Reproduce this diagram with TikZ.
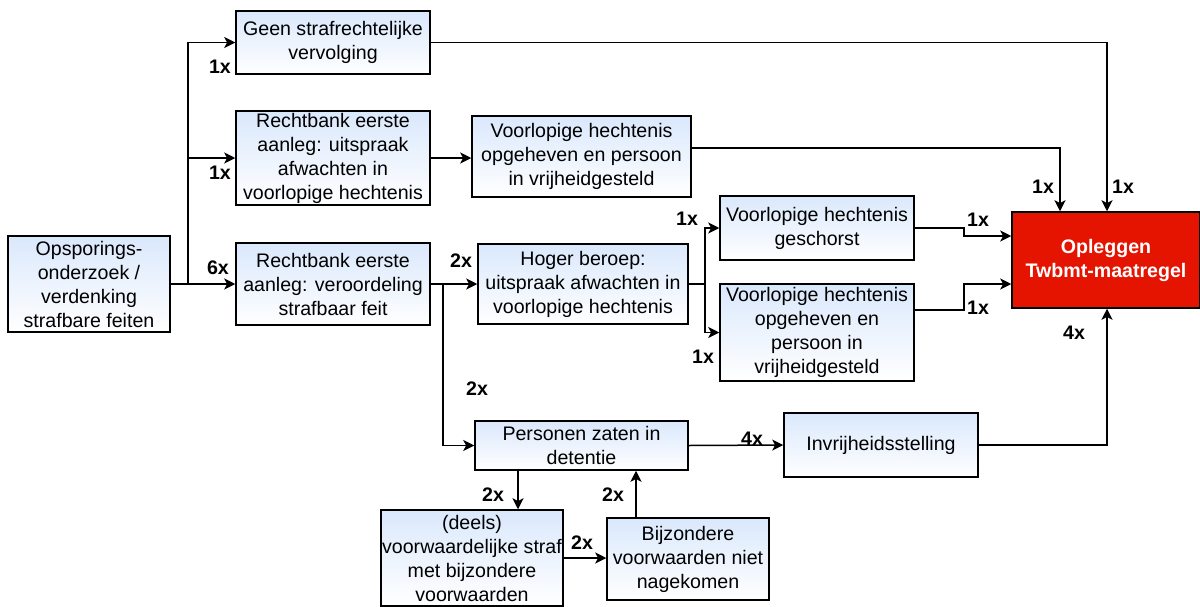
\documentclass[tikz,border=0pt]{standalone}
\usepackage{fontspec}
\setmainfont{Liberation Sans}
\usetikzlibrary{positioning,arrows.meta}
\definecolor{boxblue}{HTML}{DAE8FC}
\definecolor{boxred}{HTML}{E51400}

\begin{document}
\begin{tikzpicture}[x=0.5pt, y=-0.5pt, -{Stealth[length=5.5pt,width=5.5pt,inset=1.4pt]},
  line width=0.75pt,
  box/.style ={ rectangle, top color = boxblue, bottom color = white,
  draw = black, text = black, align=center, inner sep=1pt,
  font=\fontsize{9.8}{12}\selectfont},
  redbox/.style ={ rectangle, fill = boxred, draw = black, text = white,
  align=center, inner sep=1pt, font=\fontsize{9.8}{12}\selectfont\bfseries},
  lbl/.style ={ inner sep=0pt, font=\fontsize{9.8}{12}\selectfont\bfseries}]
  \useasboundingbox (0,0) rectangle (1200,606);
  % boxes
  \node[box, minimum width=81pt, minimum height=48pt] (ops) at (89,284)
  {Opsporings-\\onderzoek /\\verdenking\\strafbare feiten};
  \node[box, minimum width=97pt, minimum height=31.5pt] (geen) at (333,42.5)
  {Geen strafrechtelijke\\vervolging};
  \node[box, minimum width=97pt, minimum height=47pt] (rb1) at (333,158)
  {Rechtbank eerste\\aanleg: uitspraak\\afwachten in\\voorlopige hechtenis};
  \node[box, minimum width=109.5pt, minimum height=40.5pt] (vh1) at (581.5,156.5)
  {Voorlopige hechtenis\\opgeheven en persoon\\in vrijheidgesteld};
  \node[box, minimum width=97pt, minimum height=41pt] (rb2) at (333,284)
  {Rechtbank eerste\\aanleg: veroordeling\\strafbaar feit};
  \node[box, minimum width=105pt, minimum height=40pt] (hb) at (583,284)
  {Hoger beroep:\\uitspraak afwachten in\\voorlopige hechtenis};
  \node[box, minimum width=97pt, minimum height=32pt] (vhg) at (817,228)
  {Voorlopige hechtenis\\geschorst};
  \node[box, minimum width=97pt, minimum height=48.5pt] (vh2) at (817,332.5)
  {Voorlopige hechtenis\\opgeheven en\\persoon in\\vrijheidgesteld};
  \node[redbox, minimum width=94pt, minimum height=48pt] (opl) at (1106,260)
  {Opleggen\\Twbmt-maatregel};
  \node[box, minimum width=106.5pt, minimum height=24.5pt] (pers) at (581.5,445.5)
  {Personen zaten in\\detentie};
  \node[box, minimum width=97pt, minimum height=32pt] (invr) at (881,445)
  {Invrijheidsstelling};
  \node[box, minimum width=91pt, minimum height=48pt, inner xsep=0pt] (deels) at (472,558)
  {(deels)\\voorwaardelijke straf\\met bijzondere\\voorwaarden};
  \node[box, minimum width=81pt, minimum height=41pt] (bijz) at (688,559)
  {Bijzondere\\voorwaarden niet\\nagekomen};
  % connectors
  \coordinate (split) at (188,284);
  \coordinate (down) at (443,284);
  \coordinate (fork) at (705,284);
  \draw (ops.east) -- (rb2.west);
  \draw (split) |- (geen.west);
  \draw (split) |- (rb1.west);
  \draw (rb1.west -| rb1.east) -- (vh1.west |- rb1.east);
  \draw (rb2.east) -- (hb.west);
  \draw (down) |- (pers.west);
  \draw (hb.east) -- (fork) |- (vhg.west);
  \draw (fork) |- (vh2.west);
  \draw (geen.east) -| ([xshift=0.5pt]opl.north);
  \draw ([yshift=4.25pt]vh1.east) -| ([xshift=-23pt]opl.north);
  \draw (vhg.east) -- ++(49,0) |- ([yshift=12pt]opl.west);
  \draw ([yshift=11.25pt]vh2.east) -- ++(49,0) |- ([yshift=-12pt]opl.west);
  \draw (pers.east) -- (invr.west);
  \draw (invr.east) -| ([xshift=0.5pt]opl.south);
  \draw ([xshift=-31.75pt]pers.south) -- ([xshift=-31.75pt]pers.south |- deels.north);
  \draw (deels.east) -- (deels.east -| bijz.west);
  \draw ([xshift=-26pt]bijz.north) -- ([xshift=-26pt]bijz.north |- pers.south);
  % counts
  \node[lbl] (n1) at (220,67) {1x};
  \node[lbl] (n2) at (220,173) {1x};
  \node[lbl] (n3) at (218,268) {6x};
  \node[lbl] (n4) at (461,261) {2x};
  \node[lbl] (n5) at (477,389) {2x};
  \node[lbl] (n6) at (687,219) {1x};
  \node[lbl] (n7) at (703,357) {1x};
  \node[lbl] (n8) at (978,220) {1x};
  \node[lbl] (n9) at (978,308) {1x};
  \node[lbl] (n10) at (1043,187) {1x};
  \node[lbl] (n11) at (1123,187) {1x};
  \node[lbl] (n12) at (752,439) {4x};
  \node[lbl] (n13) at (1074,333) {4x};
  \node[lbl] (n14) at (493,495) {2x};
  \node[lbl] (n15) at (613,495) {2x};
  \node[lbl] (n16) at (582,543) {2x};
\end{tikzpicture}
\end{document}
